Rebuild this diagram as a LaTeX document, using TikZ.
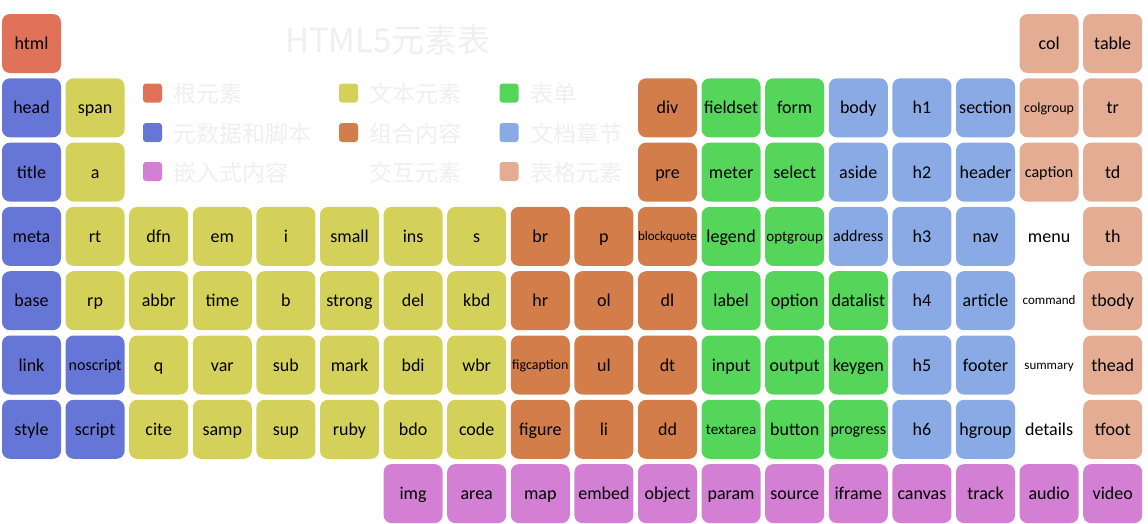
\documentclass[tikz,border=0pt]{standalone}
\usepackage{fontspec}
\setmainfont{Carlito}
\newfontfamily\cjk{Noto Sans CJK SC}
\definecolor{croot}{HTML}{DF7258}
\definecolor{cmeta}{HTML}{6676D6}
\definecolor{ctext}{HTML}{D4D15A}
\definecolor{cgrp}{HTML}{D27D4A}
\definecolor{cform}{HTML}{55D55A}
\definecolor{csec}{HTML}{8AAAE5}
\definecolor{ctab}{HTML}{E3AC93}
\definecolor{cemb}{HTML}{D37FD3}
\definecolor{faint}{HTML}{EFEFEF}
\begin{document}
\begin{tikzpicture}[x=1pt,y=-1pt,
  cell/.style={rounded corners=8pt, minimum width=59pt, minimum height=59pt, inner sep=0pt, text=black, font=\fontsize{18}{20}\selectfont, text height=12.5pt, text depth=0.5pt},
  root/.style={cell,fill=croot},
  meta/.style={cell,fill=cmeta},
  txt/.style={cell,fill=ctext},
  grp/.style={cell,fill=cgrp},
  frm/.style={cell,fill=cform},
  sec/.style={cell,fill=csec},
  tab/.style={cell,fill=ctab},
  emb/.style={cell,fill=cemb},
  inter/.style={cell},
  n/.style={},
  sa/.style={font=\fontsize{13}{15}\selectfont, text height=8.5pt, text depth=0.3pt},
  sb/.style={font=\fontsize{14}{16}\selectfont, text height=9pt, text depth=0.3pt},
  sc/.style={font=\fontsize{15}{17}\selectfont, text height=9.7pt, text depth=0.3pt},
  sd/.style={font=\fontsize{16}{18}\selectfont, text height=10.4pt, text depth=0.3pt},
  legsq/.style={rounded corners=3pt, minimum size=19pt, inner sep=0pt},
  legtxt/.style={anchor=west, text=faint, font=\cjk\fontsize{23}{25}\selectfont, inner sep=0pt}]
\useasboundingbox (0,0) rectangle (1148,523);
% title
\node[text=faint, font=\cjk\fontsize{33}{36}\selectfont] (title) at (388,40) {HTML5元素表};
% legend
\node[legsq,fill=croot] (l1) at (152.5,93) {};
\node[legtxt] (lt1) at (173,94) {根元素};
\node[legsq,fill=cmeta] (l2) at (152.5,132.5) {};
\node[legtxt] (lt2) at (173,133.5) {元数据和脚本};
\node[legsq,fill=cemb] (l3) at (152.5,171.5) {};
\node[legtxt] (lt3) at (173,172.5) {嵌入式内容};
\node[legsq,fill=ctext] (l4) at (348.5,93) {};
\node[legtxt] (lt4) at (369,94) {文本元素};
\node[legsq,fill=cgrp] (l5) at (348.5,132.5) {};
\node[legtxt] (lt5) at (369,133.5) {组合内容};
\node[legtxt] (lt6) at (369,172.5) {交互元素};
\node[legsq,fill=cform] (l7) at (509,93) {};
\node[legtxt] (lt7) at (530,94) {表单};
\node[legsq,fill=csec] (l8) at (509,132.5) {};
\node[legtxt] (lt8) at (530,133.5) {文档章节};
\node[legsq,fill=ctab] (l9) at (509,171.5) {};
\node[legtxt] (lt9) at (530,172.5) {表格元素};
% row 1
\foreach \c/\st/\z/\t in {1/root/n/html,17/tab/n/col,18/tab/n/table}
  \node[\st,\z] (n\c-1) at ({31.5+(\c-1)*63.6},43.5) {\t};
% row 2
\foreach \c/\st/\z/\t in {1/meta/n/head,2/txt/n/span,11/grp/n/div,12/frm/n/fieldset,13/frm/n/form,14/sec/n/body,15/sec/n/h1,16/sec/n/section,17/tab/sb/colgroup,18/tab/n/tr}
  \node[\st,\z] (n\c-2) at ({31.5+(\c-1)*63.6},{43.5+64.3}) {\t};
% row 3
\foreach \c/\st/\z/\t in {1/meta/n/title,2/txt/n/a,11/grp/n/pre,12/frm/n/meter,13/frm/n/select,14/sec/n/aside,15/sec/n/h2,16/sec/n/header,17/tab/sd/caption,18/tab/n/td}
  \node[\st,\z] (n\c-3) at ({31.5+(\c-1)*63.6},{43.5+2*64.3}) {\t};
% row 4
\foreach \c/\st/\z/\t in {1/meta/n/meta,2/txt/n/rt,3/txt/n/dfn,4/txt/n/em,5/txt/n/i,6/txt/n/small,7/txt/n/ins,8/txt/n/s,9/grp/n/br,10/grp/n/p,11/grp/sa/blockquote,12/frm/n/legend,13/frm/sc/optgroup,14/sec/sd/address,15/sec/n/h3,16/sec/n/nav,17/inter/n/menu,18/tab/n/th}
  \node[\st,\z] (n\c-4) at ({31.5+(\c-1)*63.6},{43.5+3*64.3}) {\t};
% row 5
\foreach \c/\st/\z/\t in {1/meta/n/base,2/txt/n/rp,3/txt/n/abbr,4/txt/n/time,5/txt/n/b,6/txt/n/strong,7/txt/n/del,8/txt/n/kbd,9/grp/n/hr,10/grp/n/ol,11/grp/n/dl,12/frm/n/label,13/frm/n/option,14/frm/n/datalist,15/sec/n/h4,16/sec/n/article,17/inter/sa/command,18/tab/n/tbody}
  \node[\st,\z] (n\c-5) at ({31.5+(\c-1)*63.6},{43.5+4*64.3}) {\t};
% row 6
\foreach \c/\st/\z/\t in {1/meta/n/link,2/meta/sd/noscript,3/txt/n/q,4/txt/n/var,5/txt/n/sub,6/txt/n/mark,7/txt/n/bdi,8/txt/n/wbr,9/grp/sb/figcaption,10/grp/n/ul,11/grp/n/dt,12/frm/n/input,13/frm/n/output,14/frm/n/keygen,15/sec/n/h5,16/sec/n/footer,17/inter/sa/summary,18/tab/n/thead}
  \node[\st,\z] (n\c-6) at ({31.5+(\c-1)*63.6},{43.5+5*64.3}) {\t};
% row 7
\foreach \c/\st/\z/\t in {1/meta/n/style,2/meta/n/script,3/txt/n/cite,4/txt/n/samp,5/txt/n/sup,6/txt/n/ruby,7/txt/n/bdo,8/txt/n/code,9/grp/n/figure,10/grp/n/li,11/grp/n/dd,12/frm/sc/textarea,13/frm/n/button,14/frm/sd/progress,15/sec/n/h6,16/sec/n/hgroup,17/inter/n/details,18/tab/n/tfoot}
  \node[\st,\z] (n\c-7) at ({31.5+(\c-1)*63.6},{43.5+6*64.3}) {\t};
% row 8
\foreach \c/\st/\z/\t in {7/emb/n/img,8/emb/n/area,9/emb/n/map,10/emb/n/embed,11/emb/n/object,12/emb/n/param,13/emb/n/source,14/emb/n/iframe,15/emb/n/canvas,16/emb/n/track,17/emb/n/audio,18/emb/n/video}
  \node[\st,\z] (n\c-8) at ({31.5+(\c-1)*63.6},{43.5+7*64.3}) {\t};
\end{tikzpicture}
\end{document}
